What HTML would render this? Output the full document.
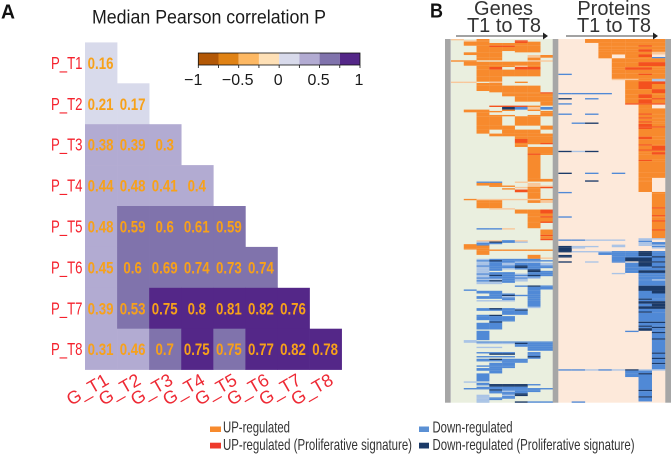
<!DOCTYPE html>
<html><head><meta charset="utf-8"><title>Median Pearson correlation and regulation heatmaps</title>
<style>
html,body{margin:0;padding:0;background:#fff;width:672px;height:454px;overflow:hidden}
svg{display:block;font-family:"Liberation Sans",sans-serif}
#panelB{filter:blur(0.35px)}
</style></head>
<body>
<svg id="fig" width="672" height="454" viewBox="0 0 672 454" xmlns="http://www.w3.org/2000/svg">
<text x="1" y="18.5" font-size="20" font-weight="bold" fill="#111" textLength="14" lengthAdjust="spacingAndGlyphs">A</text>
<text x="430" y="17.5" font-size="20" font-weight="bold" fill="#111" textLength="13" lengthAdjust="spacingAndGlyphs">B</text>
<text x="92" y="23.5" font-size="19" fill="#1a1a1a" textLength="234" lengthAdjust="spacingAndGlyphs">Median Pearson correlation P</text>
<g id="heat"></g>
<g id="cbar"></g>
<g id="panelB"></g>
<text x="503.5" y="15" font-size="20" fill="#333" text-anchor="middle">Genes</text>
<text x="504" y="32" font-size="20" fill="#333" text-anchor="middle">T1 to T8</text>
<text x="614" y="15" font-size="20" fill="#333" text-anchor="middle">Proteins</text>
<text x="614" y="32" font-size="20" fill="#333" text-anchor="middle">T1 to T8</text>
<g><line x1="456" y1="36" x2="544" y2="36" stroke="#444" stroke-width="1"/><polygon points="543,32.5 548,36 543,39.5" fill="#222"/></g>
<g><line x1="566" y1="36" x2="654" y2="36" stroke="#444" stroke-width="1"/><polygon points="653,32.5 658,36 653,39.5" fill="#222"/></g>
<g><rect x="210" y="426.5" width="11" height="5.5" fill="#f78a2d"/><text x="223" y="432.3" font-size="16" fill="#333" textLength="67" lengthAdjust="spacingAndGlyphs">UP-regulated</text></g>
<g><rect x="210" y="442.7" width="11" height="5.8" fill="#ee3a2c"/><text x="223" y="450" font-size="16" fill="#333" textLength="189" lengthAdjust="spacingAndGlyphs">UP-regulated (Proliferative signature)</text></g>
<g><rect x="419" y="426.5" width="10" height="5.5" fill="#5b90d4"/><text x="432.5" y="432.3" font-size="16" fill="#333" textLength="80" lengthAdjust="spacingAndGlyphs">Down-regulated</text></g>
<g><rect x="419" y="442.7" width="10" height="5.8" fill="#1b3a68"/><text x="432.5" y="450" font-size="16" fill="#333" textLength="202" lengthAdjust="spacingAndGlyphs">Down-regulated (Proliferative signature)</text></g>
</svg>
<script>
var rowLabels = ["P_T1","P_T2","P_T3","P_T4","P_T5","P_T6","P_T7","P_T8"];
var colLabels = ["G_T1","G_T2","G_T3","G_T4","G_T5","G_T6","G_T7","G_T8"];
var corrT1 = [0.16];
var corrT2 = [0.21,0.17];
var corrT3 = [0.38,0.39,0.3];
var corrT4 = [0.44,0.48,0.41,0.4];
var corrT5 = [0.48,0.59,0.6,0.61,0.59];
var corrT6 = [0.45,0.6,0.69,0.74,0.73,0.74];
var corrT7 = [0.39,0.53,0.75,0.8,0.81,0.82,0.76];
var corrT8 = [0.31,0.46,0.7,0.75,0.749,0.77,0.82,0.78];
var corrRows = [corrT1,corrT2,corrT3,corrT4,corrT5,corrT6,corrT7,corrT8];
var legendBins = ["#b35806","#e08214","#fdb863","#fee0b6","#d8daeb","#b2abd2","#8073ac","#542788"];
var legendTicks = [-1,-0.5,0,0.5,1];
var geneRuns = [[1,"p.U....."],[1,".pU..R.."],[1,".UU..RU."],[2,".UUUUUU."],[1,"..URRUU."],[3,"..UUUUU."],[1,"..UU.UU."],[2,".UUU...."],[2,"..UU..pU"],[2,"..UU..U."],[1,"UU....pp"],[3,".UUUUUU."],[1,"..UUUpU."],[2,"..UR.RR."],[5,"..UUUUU."],[4,"..UU...."],[1,"pp.p.U.."],[2,"..UU...."],[4,"..UUUUU."],[1,"...UUUU."],[1,"....UUUR"],[2,"....UUUU"],[4,".....UUU"],[3,".......U"],[1,"...RRRU."],[2,"....NDpD"],[1,".UU.U.U."],[1,".UUU...U"],[2,"..U....U"],[1,"..UUU.UU"],[7,"..UU.UU."],[3,"..UUU..U"],[3,"..U.UUU."],[2,"...UUUUU"],[2,".....UUU"],[3,".....RUU"],[1,".....UUR"],[2,".....U.."],[5,"......UU"],[1,"......RU"],[18,"......U."],[2,"......UU"],[1,"..DD.p.."],[2,"..UU..p."],[1,"...UU.pp"],[1,".....pUR"],[1,"....U.U."],[2,".....RU."],[5,"......U."],[1,".UpppppU"],[2,"..UU..Up"],[4,"..UU...."],[1,"...pp..."],[3,".....UUR"],[2,"......UU"],[1,"......UR"],[3,"......UU"],[1,"......UR"],[4,"......U."],[1,"..DDp..."],[4,".......U"],[1,".......R"],[2,".......U"],[1,".......R"],[1,"..ppDp.."],[1,"..bNDb.."],[1,"..DD...."],[1,".UD....."],[2,".UU....."],[1,".UU....."],[1,"..UUUUUU"],[3,"..U....."],[2,"......U."],[1,"......Up"],[1,"..bDDDD."],[1,"..DNDDDD"],[1,"..bDDbb."],[2,"..bDbDDb"],[1,"..DDDNDD"],[1,"..bDDNDD"],[1,"..bDbDD."],[1,"..bD..N."],[1,"..b...ND"],[1,"..bDD.DD"],[1,"..DDDbDD"],[1,"..bNDDND"],[1,"..bDDbD."],[1,"..DDDDb."],[1,"..bbDb.."],[1,"..DNDb.."],[1,"..bbD..."],[1,"..bb...."],[1,"........"],[1,".....DND"],[2,"......DD"],[1,".D....D."],[2,"..DD..D."],[1,"...DD.D."],[1,"...DNDD."],[1,"..DDb.D."],[1,"..DDD.D."],[1,"....D.D."],[1,"..bbb.D."],[4,"......D."],[1,"......b."],[1,"..DNDb.."],[1,"..DDDN.."],[3,"....DD.."],[1,"..DN...."],[3,"..DDD..."],[1,"...DD..."],[1,"...N...."],[5,"..DD...."],[1,"........"],[7,"..D....."],[1,".b......"],[1,".bDDDDDD"],[1,"..bbbNDD"],[2,".....DDD"],[1,"..bb..DD"],[2,"......DD"],[1,"........"],[1,"..DDD.D."],[1,"...NN.D."],[1,"......D."],[1,"..DDD.N."],[1,"......D."],[1,"..DNDD.."],[1,"..DDDD.."],[1,"....DD.."],[2,"...DD..."],[1,"..DDD..."],[1,"...DD..."],[2,"..DD...."],[2,"...D...."],[6,"..D....."],[1,".b......"],[1,"..D....."],[1,"..DNNND."],[1,"...NNN.."],[1,"..DDDD.."],[1,".DDDDDDD"],[1,"...NDDD."],[1,"...DbDD."],[1,"...DDD.."],[1,"....DN.."],[1,"..b.bN.."],[1,"..b.D..."],[1,"..bDD..."],[1,"..bD...."],[1,"..b....."],[1,"..b..NDD"]];
var proteinRuns = [[3,"..UUUUUU"],[2,"...UUUUU"],[1,"...UUURU"],[2,"...UUUUU"],[2,"...UUURU"],[2,"...UUUUp"],[2,"...U.UR."],[1,"...U.UUD"],[3,"....UUUU"],[3,"....UURR"],[1,"....UUUU"],[2,"....URRU"],[3,"....UUUU"],[1,"D...UURU"],[3,"....UUUU"],[1,"....ppUb"],[1,".....UUb"],[2,".....URR"],[4,".....URU"],[3,".....UUR"],[1,"DDDD.UUU"],[3,".....URU"],[1,"N.D..UUR"],[3,".....URU"],[1,"D....RRR"],[3,"......U."],[4,"......UU"],[1,"D.D...RU"],[2,"......UU"],[1,"......RU"],[2,"......UU"],[1,"......RU"],[1,".DN...UU"],[2,"......RU"],[1,"......RR"],[1,"......RU"],[6,"......UU"],[2,"......RU"],[4,"......UU"],[1,"......RU"],[3,"......UR"],[1,"......RR"],[1,"NbN...UU"],[2,"......UR"],[4,"......UU"],[1,"......RU"],[9,"......UU"],[1,"N.D.D.UU"],[3,"......UU"],[2,"......U."],[1,"..N...U."],[8,"......U."],[1,"D......U"],[11,".......U"],[1,".......R"],[5,".......U"],[1,".......R"],[1,"D......U"],[2,".......U"],[1,".......R"],[6,".......U"],[1,".......R"],[6,".......U"],[1,"......bb"],[1,"DDbbb.b."],[1,"......D."],[2,"......bD"],[1,"....b.bb"],[1,"Nbb.b..D"],[1,"Nb.....b"],[2,"N......."],[1,"NbbbDDND"],[2,"...DDDND"],[1,"N...DDND"],[1,"N...DDDN"],[3,"....DNND"],[1,"N.b.D.NN"],[3,".....DND"],[1,".....DDN"],[2,".....DDD"],[2,".....DNN"],[1,"....b.DD"],[2,"......DD"],[2,"......DD"],[1,"......Db"],[4,"......DD"],[4,"......NN"],[2,"......DN"],[4,"......DD"],[1,"......ND"],[1,"......DD"],[2,"......NN"],[2,"......DN"],[2,"......NN"],[2,"......DD"],[1,"......ND"],[7,"......DD"],[1,"......NN"],[2,"......DD"],[1,"......ND"],[1,"......DN"],[2,"......ND"],[1,".....D.D"],[1,".......N"],[4,".......D"],[1,".......N"],[1,".......D"],[9,".......D"],[1,".......N"],[3,".......D"],[1,".......N"],[3,".......D"],[1,".......N"],[4,".......D"],[1,"DDbDbNbb"],[2,".....DD."],[1,".....DN."],[2,".....DD."],[10,"......D."],[1,"......N."],[4,"......D."],[1,"......N."],[3,"......D."],[1,".D......"]];

var NS = "http://www.w3.org/2000/svg";
function make(tag, attrs, parent, text) {
  var el = document.createElementNS(NS, tag);
  for (var k in attrs) el.setAttribute(k, attrs[k]);
  if (text !== undefined) el.textContent = text;
  parent.appendChild(el);
  return el;
}
var heatX0 = 85, cellW = 32.08, heatY0 = 42.4, cellH = 40.9;
function xCell(i) { return heatX0 + i * cellW; }
function yCell(j) { return heatY0 + j * cellH; }
function binIndex(v) { return Math.max(0, Math.min(7, Math.floor((v + 1) / 0.25))); }
var heat = document.getElementById("heat");
corrRows.forEach(function (row, j) {
  row.forEach(function (v, i) {
    var cell = make("rect", {x: xCell(i), y: yCell(j), width: cellW + 0.3, height: cellH + 0.3, fill: legendBins[binIndex(v)]}, heat);
    
    
  });
});
corrRows.forEach(function (row, j) {
  row.forEach(function (v, i) {
    var cx = xCell(i) + cellW / 2 - 0.5;
    var cy = yCell(j) + cellH / 2 + 6;
    var label = make("text", {x: 0, y: 0, "font-size": 17, "font-weight": "bold", fill: "#f7a11a", "text-anchor": "middle", transform: "translate(" + cx + " " + cy + ") scale(0.78 1)"}, heat, String(Number(v.toFixed(2))));
    
    
  });
});
rowLabels.forEach(function (t, j) {
  var rl = make("text", {x: 51, y: yCell(j) + cellH / 2 + 6, "font-size": 17.5, fill: "#f5222d", textLength: 31.5, lengthAdjust: "spacingAndGlyphs"}, heat, t);
  
  
});
colLabels.forEach(function (t, i) {
  var ax = xCell(i) + 25, ay = 383.5;
  var cl = make("text", {x: ax, y: ay, "font-size": 18, fill: "#ee2a35", "text-anchor": "end", transform: "rotate(-30 " + ax + " " + ay + ")"}, heat, t);
  
  
});

var barX0 = 198.3, barW = 161.7, barY = 53, barH = 12;
function xBar(v) { return barX0 + (v + 1) / 2 * barW; }
var cbar = document.getElementById("cbar");
legendBins.forEach(function (c, i) {
  var lo = -1 + i * 0.25;
  var seg = make("rect", {x: xBar(lo), y: barY, width: xBar(lo + 0.25) - xBar(lo), height: barH, fill: c}, cbar);
  
  
});
make("rect", {x: barX0, y: barY, width: barW, height: barH, fill: "none", stroke: "#111", "stroke-width": 0.8}, cbar);
for (var q = 0; q <= 8; q++) {
  make("line", {x1: xBar(-1 + q * 0.25), x2: xBar(-1 + q * 0.25), y1: barY + barH, y2: barY + barH + 3, stroke: "#111", "stroke-width": 0.8}, cbar);
}
legendTicks.forEach(function (v) {
  var s = String(Math.abs(v));
  if (v < 0) s = "\u2212" + s;
  var tk = make("text", {x: v === -1 ? xBar(v) - 5 : xBar(v) - 1, y: 85, "font-size": 16, fill: "#1a1a1a", "text-anchor": "middle"}, cbar, s);
  
  
});

var panelTop = 39, panelBottom = 402.7;
var statusColors = {U: "#f78a2d", R: "#f4511e", D: "#5089d6", N: "#1b3a68", p: "#f8c79a", b: "#a9c3e6"};
var panelB = document.getElementById("panelB");
var genesBg = make("rect", {x: 451, y: panelTop, width: 102, height: panelBottom - panelTop, fill: "#eaefdf"}, panelB);


var proteinsBg = make("rect", {x: 558, y: panelTop, width: 107.5, height: panelBottom - panelTop, fill: "#fde9da"}, panelB);


function drawRuns(runs, x0, colW, name) {
  var total = runs.reduce(function (s, r) { return s + r[0]; }, 0);
  function yRow(n) { return panelTop + n / total * (panelBottom - panelTop); }
  var at = 0;
  runs.forEach(function (run) {
    for (var c = 0; c < 8; c++) {
      var fill = statusColors[run[1].charAt(c)];
      if (!fill) continue;
      var m = make("rect", {x: x0 + c * colW, y: yRow(at), width: colW + 0.1, height: yRow(at + run[0]) - yRow(at) + 0.05, fill: fill}, panelB);
      
      
    }
    at += run[0];
  });
}
drawRuns(geneRuns, 451, 12.77, 'gene-cell');
drawRuns(proteinRuns, 558.3, 13.37, 'protein-cell');
var sepLeft = make("rect", {x: 445, y: panelTop, width: 5.7, height: panelBottom - panelTop, fill: "#a6a6a6"}, panelB);


var sepMid = make("rect", {x: 552.7, y: panelTop, width: 5.6, height: panelBottom - panelTop, fill: "#a6a6a6"}, panelB);


var sepRight = make("rect", {x: 665.3, y: panelTop, width: 5.7, height: panelBottom - panelTop, fill: "#a6a6a6"}, panelB);


</script>
</body></html>
